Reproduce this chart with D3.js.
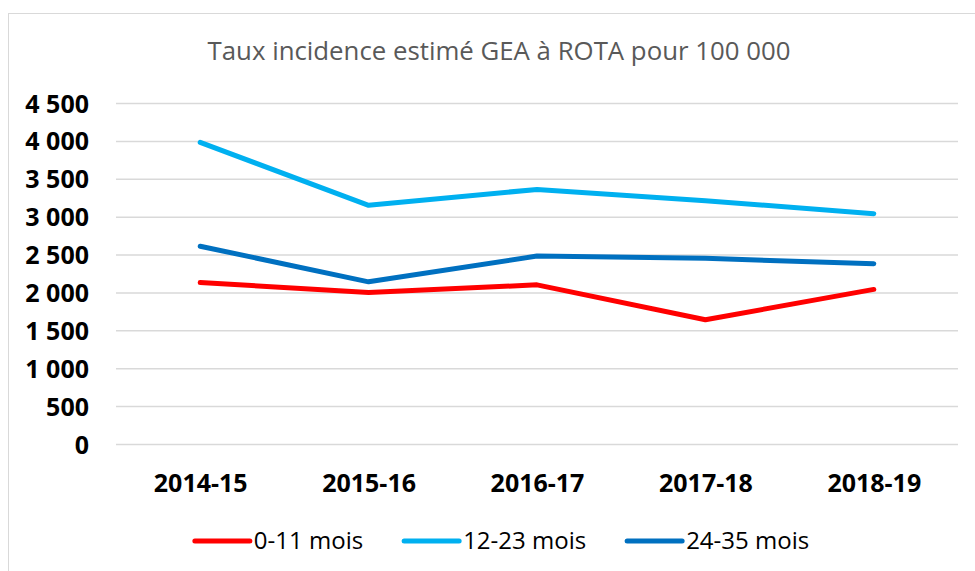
<!DOCTYPE html>
<html>
<head>
<meta charset="utf-8">
<script src="https://cdn.jsdelivr.net/npm/d3@7"></script>
<style>
body { margin: 0; background: #fff; }
text { font-family: "Open Sans", sans-serif; }
</style>
</head>
<body>
<script>
var categories = ["2014-15", "2015-16", "2016-17", "2017-18", "2018-19"];
var seriesNames = ["0-11 mois", "12-23 mois", "24-35 mois"];
var values0to11 = [2130, 2000, 2100, 1640, 2040];
var values12to23 = [3980, 3150, 3360, 3210, 3040];
var values24to35 = [2610, 2140, 2480, 2450, 2380];
var yTicks = [0, 500, 1000, 1500, 2000, 2500, 3000, 3500, 4000, 4500];
var colors = ["#ff0000", "#00b0f0", "#0070c0"];

var series = [values0to11, values12to23, values24to35];

var svg = d3.select("body")
    .append("svg")
    .attr("width", "975")
    .attr("height", "571")
    .style('display', 'block');

margin = {top: 103, right: 17, bottom: 127, left: 116};
width = +svg.attr("width") - margin.left - margin.right;
height = +svg.attr("height") - margin.top - margin.bottom;

// chart frame
svg.append("rect")
    .attr("x", 8.5)
    .attr("y", 13.5)
    .attr("width", 975)
    .attr("height", 600)
    .attr("fill", "none")
    .attr("stroke", "#d9d9d9")
    .attr("stroke-width", 1);

g = svg.append("g").attr("transform", "translate(" + margin.left + "," + margin.top + ")");

var x = d3.scalePoint()
    .domain(categories)
    .range([0, width])
    .padding(0.5);

var y = d3.scaleLinear()
    .domain([0, 4500])
    .range([height, 0]);

var formatNumber = function(d) {
    return d3.format(",d")(d).replace(/,/g, " ");
};

var yAxis = d3.axisLeft(y)
    .tickSize(-width)
    .tickValues(yTicks)
    .tickFormat(formatNumber);

g.append("g")
    .call(customYAxis);

function customYAxis(g) {
    g.call(yAxis);
    g.select(".domain").remove();
    g.selectAll(".tick line").attr("stroke", "#d9d9d9").attr("stroke-width", 1.5);
    g.selectAll(".tick text")
        .attr("x", -27)
        .attr("dy", "0.36em")
        .attr("fill", "#000")
        .style("font-size", "25px")
        .style("font-weight", "bold");
}

var xAxis = d3.axisBottom(x)
    .tickSize(0);

g.append("g")
    .attr("transform", "translate(0," + height + ")")
    .call(xAxis)
    .call(function(g) { g.select(".domain").remove(); })
    .selectAll("text")
    .attr("y", 30)
    .attr("dy", "0.71em")
    .attr("fill", "#000")
    .style("font-size", "25px")
    .style("font-weight", "bold");

var line = d3.line()
    .x(function(d, i) { return x(categories[i]); })
    .y(function(d) { return y(d); });

g.selectAll(".series")
    .data(series)
    .enter()
    .append("path")
    .attr("class", "series")
    .attr("d", line)
    .attr("fill", "none")
    .attr("stroke", function(d, i) { return colors[i]; })
    .attr("stroke-width", 5)
    .attr("stroke-linecap", "round")
    .attr("stroke-linejoin", "round");

svg.append("text")
    .attr("x", 499)
    .attr("y", 60)
    .attr("text-anchor", "middle")
    .attr("fill", "#595959")
    .text("Taux incidence estimé GEA à ROTA pour 100 000")
    .style("font-size", "25.8px");

// legend
var legend = svg.append("g").attr("transform", "translate(0,541)");
var lx = 0;
var items = legend.selectAll("g")
    .data(seriesNames)
    .enter()
    .append("g");

items.append("line")
    .attr("x1", 0)
    .attr("x2", 55)
    .attr("stroke", function(d, i) { return colors[i]; })
    .attr("stroke-width", 5)
    .attr("stroke-linecap", "round");

items.append("text")
    .attr("x", 59)
    .attr("dy", "0.35em")
    .attr("fill", "#000")
    .style("font-size", "24px")
    .text(function(d) { return d; });

items.each(function() {
    var w = this.getBBox().width;
    d3.select(this).attr("transform", "translate(" + lx + ",0)");
    lx += w + 41;
});
lx -= 41;
legend.attr("transform", "translate(" + (502 - lx / 2) + ",541)");
</script>
</body>
</html>
